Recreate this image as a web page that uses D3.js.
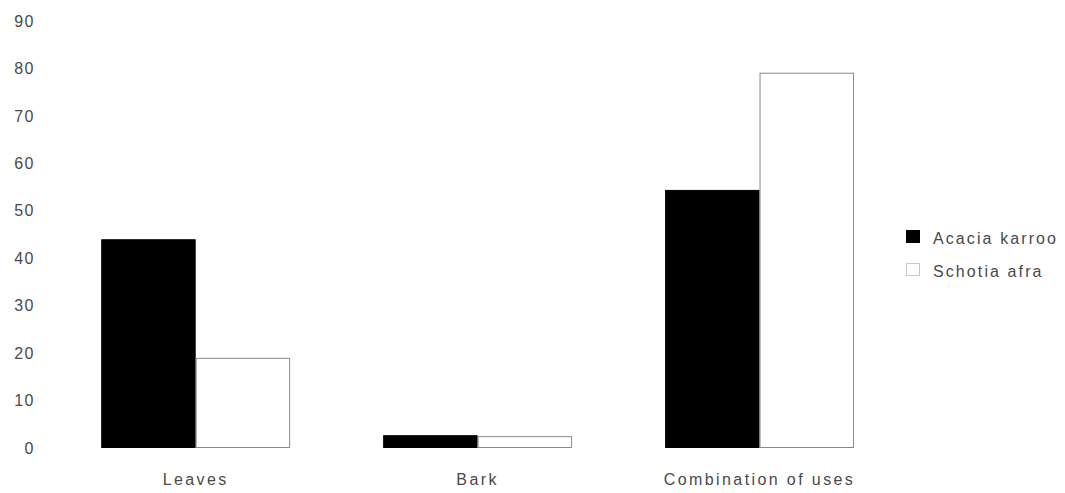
<!DOCTYPE html>
<html>
<head>
<meta charset="utf-8">
<script src="https://cdn.jsdelivr.net/npm/d3@7"></script>
<style>
  html, body { margin: 0; padding: 0; background: #fff; }
  svg text { font-family: Arial, "Liberation Sans", sans-serif; fill: #4a4a4a; }
</style>
</head>
<body>
<svg id="chart" width="1065" height="493"></svg>
<script>
const categories = ["Leaves", "Bark", "Combination of uses"];
const seriesNames = ["Acacia karroo", "Schotia afra"];
const acaciaKarroo = [44, 2.7, 54.4];
const schotiaAfra = [19, 2.5, 79.1];
const yTicks = [0, 10, 20, 30, 40, 50, 60, 70, 80, 90];

const seriesValues = [acaciaKarroo, schotiaAfra];
const fills = ["#000000", "#ffffff"];
const strokes = ["#000000", "#8a8a8a"];

const svg = d3.select("#chart");

const x = d3.scaleBand().domain(categories).range([54.7, 900.5])
  .paddingInner(0.33).paddingOuter(0.165);
const xs = d3.scaleBand().domain(seriesNames).range([0, x.bandwidth()]).padding(0);
const y = d3.scaleLinear().domain([0, 90]).range([448, 21]);

// y axis (labels only)
const yAxis = d3.axisLeft(y).tickValues(yTicks).tickSize(0).tickPadding(0);
const gy = svg.append("g").attr("transform", "translate(35,0)").call(yAxis);
gy.select(".domain").remove();
gy.selectAll("text")
  .attr("font-size", 16).attr("letter-spacing", "1.5px")
  .style("font-family", "Arial, 'Liberation Sans', sans-serif").style("fill", "#4a4a4a");

// bars
const groups = svg.append("g").selectAll("g").data(categories).join("g")
  .attr("transform", d => `translate(${x(d)},0)`);
groups.selectAll("rect")
  .data((c, i) => seriesNames.map((s, j) => ({ s, j, v: seriesValues[j][i] })))
  .join("rect")
  .attr("x", d => xs(d.s) + 0.5)
  .attr("y", d => y(d.v) + 0.5)
  .attr("width", xs.bandwidth() - 1)
  .attr("height", d => Math.max(0, y(0) - y(d.v) - 1))
  .attr("fill", d => fills[d.j])
  .attr("stroke", d => strokes[d.j])
  .attr("stroke-width", 1);

// x axis labels
const xAxis = d3.axisBottom(x).tickSize(0).tickPadding(0);
const gx = svg.append("g").attr("transform", "translate(0,474)").call(xAxis);
gx.select(".domain").remove();
gx.selectAll("text")
  .attr("font-size", 16).attr("letter-spacing", "2.4px")
  .style("font-family", "Arial, 'Liberation Sans', sans-serif").style("fill", "#4a4a4a");

// legend
const legend = svg.append("g").attr("transform", "translate(906,230)");
const items = legend.selectAll("g").data(seriesNames).join("g")
  .attr("transform", (d, i) => `translate(0,${i * 33})`);
items.append("rect")
  .attr("x", 0.5).attr("y", 0.5).attr("width", 13).attr("height", 12)
  .attr("fill", (d, i) => fills[i])
  .attr("stroke", (d, i) => i === 0 ? "#000" : "#c8c8c8");
items.append("text")
  .attr("x", 27).attr("y", 13.5)
  .attr("font-size", 16).attr("letter-spacing", "2.1px")
  .text(d => d);
</script>
</body>
</html>
